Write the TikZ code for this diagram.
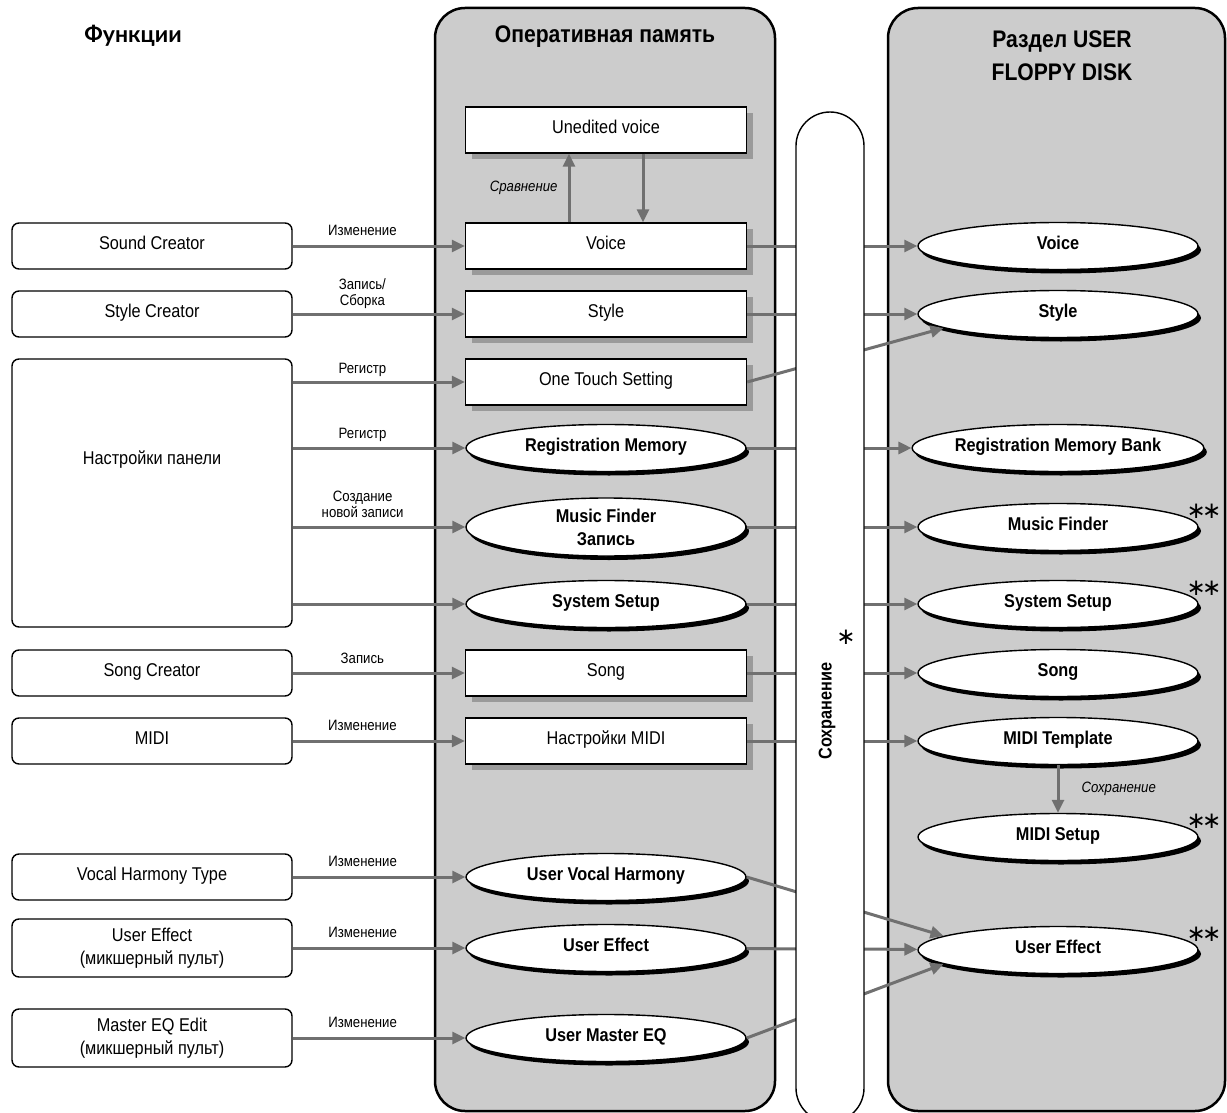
\documentclass[tikz,border=0pt]{standalone}
\usepackage{fontspec}
\setmainfont{Liberation Sans}[FakeStretch=0.88]
\newfontfamily\latofont{Lato}
\newfontfamily\dejavu{DejaVu Sans}
\usetikzlibrary{shapes.geometric,shadows,arrows.meta,calc}
\definecolor{panelgray}{HTML}{CCCCCC}
\definecolor{arrowgray}{HTML}{707070}
\definecolor{shadowgray}{HTML}{9A9A9A}
\newcommand{\mynormal}{\fontsize{18.5}{23}\selectfont}
\newcommand{\mybold}{\fontsize{18.5}{23}\selectfont\bfseries}
\newcommand{\mysmall}{\fontsize{15}{16}\selectfont}
\newcommand{\myhead}{\fontsize{24}{33}\selectfont\bfseries}
\newcommand{\starfont}{\dejavu\fontsize{23}{23}\selectfont}
\newcommand{\dstar}{∗\kern-4pt∗}
\begin{document}
\begin{tikzpicture}[x=1pt,y=-1pt,
  oneline/.style={text height=0.72em, text depth=0pt},
  multiline/.style={text height={}, text depth={}},
  lbox/.style={draw, rounded corners=7pt, line width=1.4pt, fill=white, minimum width=280pt, minimum height=46pt, font=\mynormal, align=center, oneline, inner sep=0pt},
  mbox/.style={draw, line width=1.4pt, fill=white, minimum width=281pt, minimum height=46pt, font=\mynormal, align=center, oneline, inner sep=0pt, drop shadow={shadow xshift=6pt, shadow yshift=-6pt, fill=shadowgray, opacity=1}},
  mell/.style={ellipse, draw, line width=1.4pt, fill=white, minimum width=280pt, minimum height=47pt, font=\mybold, align=center, oneline, inner sep=0pt, drop shadow={shadow xshift=3pt, shadow yshift=-4pt, fill=black, opacity=1}},
  arr/.style={draw=arrowgray, line width=3pt, -{Triangle[length=13pt,width=12pt]}},
  lbl/.style={font=\mysmall, align=center, inner sep=0pt, text depth=0pt},
  ilbl/.style={font=\mysmall\itshape, inner sep=0pt},
  panel/.style={draw, fill=panelgray, line width=2.5pt, rounded corners=30pt},
  head/.style={font=\myhead, align=center, inner sep=0pt},
  stars/.style={inner sep=0pt, font=\starfont}
]
\useasboundingbox (0,0) rectangle (1227,1113);

% panels
\draw[panel] (435,8) rectangle (775,1111);
\draw[panel] (888,8) rectangle (1225,1111);

% headers
\node[font=\latofont\fontsize{23}{28}\selectfont\bfseries, inner sep=0pt, oneline] (hf) at (133,39) {Функции};
\node[head, oneline] (hm) at (605,39) {Оперативная память};
\node[head] (hr) at (1062,56) {Раздел USER\\FLOPPY DISK};

% left column
\node[lbox] (sc) at (152,246) {Sound Creator};
\node[lbox] (stc) at (152,314) {Style Creator};
\node[lbox, minimum height=268pt] (np) at (152,493) {};
\node[font=\mynormal, inner sep=0pt, oneline] (npt) at (152,461) {Настройки панели};
\node[lbox] (songc) at (152,673) {Song Creator};
\node[lbox] (midic) at (152,741) {MIDI};
\node[lbox] (vht) at (152,877) {Vocal Harmony Type};
\node[lbox, multiline, minimum height=58pt] (uec) at (152,948) {User Effect\\(микшерный пульт)};
\node[lbox, multiline, minimum height=58pt] (meq) at (152,1038) {Master EQ Edit\\(микшерный пульт)};

% middle column
\node[mbox] (uv) at (606,130) {Unedited voice};
\node[mbox] (vm) at (606,246) {Voice};
\node[mbox] (sm) at (606,314) {Style};
\node[mbox] (otm) at (606,382) {One Touch Setting};
\node[mell] (rmm) at (606,448) {Registration Memory};
\node[mell, multiline, minimum height=58pt] (mfm) at (606,527) {Music Finder\\Запись};
\node[mell] (ssm) at (606,604) {System Setup};
\node[mbox] (songm) at (606,673) {Song};
\node[mbox] (midim) at (606,741) {Настройки MIDI};
\node[mell] (uvhm) at (606,877) {User Vocal Harmony};
\node[mell] (uem) at (606,948) {User Effect};
\node[mell] (ueqm) at (606,1038) {User Master EQ};

% right column
\node[mell] (vr) at (1058,246) {Voice};
\node[mell] (sr) at (1058,314) {Style};
\node[mell] (rmr) at (1058,448) {Registration Memory Bank};
\node[mell] (mfr) at (1058,527) {Music Finder};
\node[mell] (ssr) at (1058,604) {System Setup};
\node[mell] (songr) at (1058,673) {Song};
\node[mell] (mtr) at (1058,741) {MIDI Template};
\node[mell] (msr) at (1058,837) {MIDI Setup};
\node[mell] (uer) at (1058,950) {User Effect};

% stars
\node[stars] (st1) at (1204,511) {\dstar};
\node[stars] (st2) at (1204,588) {\dstar};
\node[stars] (st3) at (1204,821) {\dstar};
\node[stars] (st4) at (1204,934) {\dstar};

% left -> middle arrows
\draw[arr] (sc) -- node[lbl, pos=0.405, above=9pt] {Изменение} (vm);
\draw[arr] (stc) -- node[lbl, pos=0.405, above=7pt] {Запись/\\Сборка} (sm);
\draw[arr] (np.east |- otm) -- node[lbl, pos=0.405, above=7pt] {Регистр} (otm);
\draw[arr] (np.east |- rmm) -- node[lbl, pos=0.405, above=8pt] {Регистр} (rmm);
\draw[arr] (np.east |- mfm) -- node[lbl, pos=0.405, above=8pt] {Создание\\новой записи} (mfm);
\draw[arr] (np.east |- ssm) -- (ssm);
\draw[arr] (songc) -- node[lbl, pos=0.405, above=8pt] {Запись} (songm);
\draw[arr] (midic) -- node[lbl, pos=0.405, above=9pt] {Изменение} (midim);
\draw[arr] (vht) -- node[lbl, pos=0.405, above=9pt] {Изменение} (uvhm);
\draw[arr] (uec) -- node[lbl, pos=0.405, above=9pt] {Изменение} (uem);
\draw[arr] (meq) -- node[lbl, pos=0.405, above=9pt] {Изменение} (ueqm);

% compare arrows
\draw[arr] ($(vm.north)+(-37,0)$) -- node[ilbl, left=10pt] {Сравнение} ($(uv.south)+(-37,0)$);
\draw[arr] ($(uv.south)+(37,0)$) -- ($(vm.north)+(37,0)$);

% middle -> right arrows
\draw[arr] (vm) -- (vr);
\draw[arr] (sm) -- (sr);
\draw[arr] (otm.east) -- (sr.187);
\draw[arr] (rmm) -- (rmr);
\draw[arr] (mfm) -- (mfr);
\draw[arr] (ssm) -- (ssr);
\draw[arr] (songm) -- (songr);
\draw[arr] (midim) -- (mtr);
\draw[arr] (uvhm.east) -- (uer.173);
\draw[arr] (uem) -- (uer);
\draw[arr] (ueqm.east) -- (uer.187);

% MIDI template -> setup
\draw[arr] (mtr) -- node[ilbl, right=22pt] {Сохранение} (msr);

% saving pill
\draw[fill=white, line width=1.4pt, rounded corners=34pt] (796,112) rectangle (864,1122);
\node[font=\mybold, rotate=90, inner sep=0pt] (sav) at (827,711) {Сохранение};
\node[stars] (st0) at (846,637) {∗};
\end{tikzpicture}
\end{document}
